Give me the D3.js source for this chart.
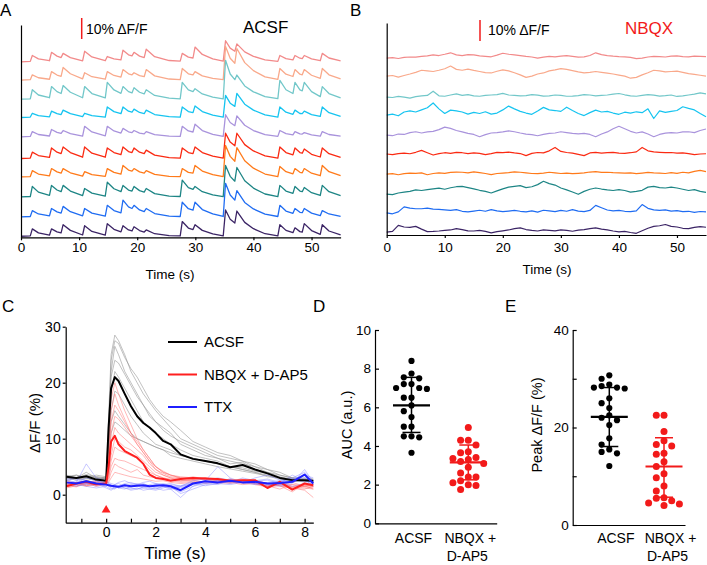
<!DOCTYPE html>
<html><head><meta charset="utf-8">
<script src="https://cdn.jsdelivr.net/npm/d3@7"></script>
<style>body{margin:0;background:#fff}svg{display:block;background:#fff}</style>
</head><body>
<svg id="fig" width="707" height="565"></svg>
<script>
// ---------------- DATA ----------------
// Panel A (ACSF): vertex times (s) shared by all ten traces, values in % dF/F above each trace's own baseline
const timesA = [0,1.6,1.95,3.0,4.9,5.25,6.2,6.9,7.25,8.5,
  10.6,10.95,12.2,14.5,14.85,16.0,17.2,17.55,18.5,19.1,
  19.45,20.4,21.2,21.55,23.0,25.5,27.4,27.75,28.8,29.6,
  29.95,31.2,33.0,34.8,35.2,36.0,36.8,37.15,38.5,40.0,
  42.0,44.2,44.55,45.6,46.8,47.15,48.0,48.4,48.75,50.0,
  51.5,51.85,53.0,55.0];
const acsf1 = [0,0.2,3,1.4,0.5,4.5,2.7,2,4,2, 0.4,5,2.3,0.5,2.5,1.4,0.9,5.5,3.3,2.8, 4.5,2.7,2,6,2.4,0.6,0.3,4,2.2,1.8, 7,3.5,1.4,0.3,10,6.5,5,8.5,4.7,2.6, 0.9,0.2,3,1.5,0.9,3,1.7,1.5,3,1.4, 0.5,4,1.8,0.4];
const acsf2 = [0,0.2,2.5,1.1,0.4,4,2.4,1.8,6,3, 0.6,3.5,1.6,0.4,4,2.2,1.4,5,3,2.5, 3.5,2.1,1.6,5,2,0.5,0.2,5.5,3,2.5, 4,2,0.8,0.2,16,10.4,8,15,8.3,4.5, 1.5,0.3,5.5,2.8,1.7,5,2.8,2.5,5,2.3, 0.8,5.5,2.5,0.6];
const acsf3 = [0,0.2,4.5,2,0.7,6,3.6,2.7,6.5,3.3, 0.7,6,2.7,0.6,8,4.4,2.8,6,3.6,3, 5.5,3.3,2.5,4.5,1.8,0.5,0.2,8,4.4,3.6, 5,2.5,1,0.2,18.5,12,9.3,11.5,6.3,3.5, 1.2,0.3,9,4.5,2.7,8,4.4,4,8,3.6, 1.2,6,2.7,0.6];
const acsf4 = [0,0.2,2,0.9,0.3,3,1.8,1.4,3.5,1.8, 0.4,2,0.9,0.2,5,2.8,1.8,5,3,2.5, 4,2.4,1.8,3.5,1.4,0.4,0.2,5,2.8,2.3, 5.5,2.8,1.1,0.2,10.5,6.8,5.3,11.5,6.3,3.5, 1.2,0.2,5,2.5,1.5,3.5,1.9,1.8,3,1.4, 0.5,5,2.3,0.5];
const acsf5 = [0,0.2,2.5,1.1,0.4,3.5,2.1,1.6,3,1.5, 0.3,5,2.3,0.5,5,2.8,1.8,4,2.4,2, 3,1.8,1.4,2.5,1,0.3,0.2,5,2.8,2.3, 6,3,1.2,0.2,10.5,6.8,5.3,10,5.5,3, 1,0.2,3,1.5,0.9,2.5,1.4,1.3,2,0.9, 0.3,2.5,1.1,0.3];
const acsf6 = [0,0.2,3,1.4,0.5,5,3,2.3,5.5,2.8, 0.6,5.5,2.5,0.6,5,2.8,1.8,5.5,3.3,2.8, 5,3,2.3,4,1.6,0.4,0.2,5,2.8,2.3, 5.5,2.8,1.1,0.2,12,7.8,6,12,6.6,3.6, 1.2,0.2,5.5,2.8,1.7,5,2.8,2.5,4.5,2, 0.7,5,2.3,0.5];
const acsf7 = [0,0.2,3,1.4,0.5,4,2.4,1.8,4,2, 0.4,2.5,1.1,0.3,4,2.2,1.4,5.5,3.3,2.8, 4,2.4,1.8,3,1.2,0.3,0.2,4,2.2,1.8, 5.5,2.8,1.1,0.2,15,9.8,7.5,14,7.7,4.2, 1.4,0.2,5,2.5,1.5,4,2.2,2,4,1.8, 0.6,5.5,2.5,0.6];
const acsf8 = [0,0.2,5,2.3,0.8,5.5,3.3,2.5,5.5,2.8, 0.6,4,1.8,0.4,7,3.9,2.5,5.5,3.3,2.8, 5,3,2.3,4,1.6,0.4,0.2,8,4.4,3.6, 5,2.5,1,0.2,15,9.8,7.5,14,7.7,4.2, 1.4,0.2,5.5,2.8,1.7,5,2.8,2.5,4.5,2, 0.7,5.5,2.5,0.6];
const acsf9 = [0,0.2,3,1.4,0.5,4,2.4,1.8,5,2.5, 0.5,4,1.8,0.4,5.5,3,1.9,8,4.8,4, 5.5,3.3,2.5,4,1.6,0.4,0.2,7,3.9,3.2, 7,3.5,1.4,0.2,16,10.4,8,12.5,6.9,3.8, 1.3,0.2,5.5,2.8,1.7,4,2.2,2,4,1.8, 0.6,3,1.4,0.3];
const acsf10 = [0,0.2,3.5,1.6,0.5,3.5,2.1,1.6,5.5,2.8, 0.6,5,2.3,0.5,6,3.3,2.1,5,3,2.5, 4.5,2.7,2,3,1.2,0.3,0.2,7,3.9,3.2, 5.5,2.8,1.1,0.2,12.5,8.1,6.3,12,6.6,3.6, 1.2,0.2,5.5,2.8,1.7,4,2.2,2,6,2.7, 0.9,5.5,2.5,0.6];

// Panel B (NBQX): one value per second
const timesB = [0,1,2,3,4,5,6,7,8,9,10,11,12,13,14,15,16,17,18,19,20,21,22,23,24,25,26,27,28,29,30,31,32,33,34,35,36,37,38,39,40,41,42,43,44,45,46,47,48,49,50,51,52,53,54,55];
const nbqx1 = [0,0.2,-0.2,0.3,0.5,0.4,0.8,1,1.5,1.2, 1.8,2.5,1.5,1.2,1.6,1.5,1,0.8,0.6,1.4, 2.3,1.8,1.5,1.2,0.8,0.5,0,0.4,0.8,0.6, 0.9,1.2,0.8,0.4,0.6,1.2,2.5,1.6,1.2,0.9, 0.7,0.6,0.3,-0.3,0,0.5,0.8,0.7,0.5,0.9, 1,0.7,0.6,0.9,0.8,0.7];
const nbqx2 = [0,0.3,-0.5,0.3,1,1.8,2.8,2.5,2.2,2.8, 3.5,4.8,3.2,2.8,3.3,2.7,2.2,1.7,1.5,2.3, 3,2.5,1.6,0.6,-0.6,0,1,1.5,2.5,3, 3.6,3.2,2.6,2,1.5,1.8,2.2,1.8,1.4,1, 0.5,0,-1,-0.6,0.6,1.6,2.8,2.5,2,2.2, 2.4,1.8,1.2,0.8,0.4,0];
const nbqx3 = [0,-0.2,0.3,0,-0.5,0.2,0.6,0.8,2.8,0.6, 0.4,1,1.5,0.8,1.2,0.6,0.4,0.8,1,1.2, 1.8,1,0.8,0.6,0.7,1.2,0.9,0.5,0.6,1, 0.8,0.4,0.5,0.7,1.2,1,0.6,0.8,1,1.4, 1.7,1.1,0.6,0.4,0.8,1.2,0.9,0.5,0.7,1, 0.3,0.6,1,1.4,2,1.5];
const nbqx4 = [0,0.5,-0.3,1.5,2,1.5,2.5,3.5,5.8,3, 0.8,2.4,2,1.5,0.5,1.3,0.8,1.6,0.5,1, 2.5,4.3,3,1.8,1,0.4,2,3.7,2.5,2.2, 1.8,3.8,2.2,0.8,-0.2,1.2,2.4,1.5,1.8,1, 0.4,1.4,1,1.6,1.2,3,-1.6,2,1.3,1.8, 2.2,4,3.2,2.5,0.8,-0.8];
const nbqx5 = [0,-0.3,0.5,0.3,1.2,1.6,1,1.5,1.8,2.6, 3.8,3.2,2.2,1.5,0.8,0.3,-0.8,0.2,1,1.2, 1.5,2,1.6,1,0.5,0.2,-0.3,0.3,0.8,1, 1.6,1.2,0.8,0.6,0.8,0.3,-0.8,0.5,1.5,3, 4.2,3,1.8,1,1.5,0.5,-0.8,0.3,0.9,1.2, 1,1.5,1.6,1.2,2.2,2.9];
const nbqx6 = [0,-0.3,0.2,0.4,0.1,0.8,1.7,0.6,-0.5,0.2, 0.6,0.3,0.8,0.6,0.2,0.5,0.3,-0.3,0.2,0.8, 0.6,0.9,0.5,0.2,-0.8,0.3,0.7,0.5,1.5,3.1, 1.2,0.7,0.4,-0.2,-0.8,0.5,0.8,0.4,0.6,0.8, 0.4,0.3,0.6,1,3.1,1.5,1,0.8,0.6,0.7, 0.4,0.5,0.2,-0.3,0,0.1];
const nbqx7 = [0,0.2,-0.3,0.2,0.5,0.4,0.6,-0.3,0.3,0.6, 0.4,0.8,1,0.9,0.6,1.1,0.7,0.3,-0.2,0.3, 0.5,0.7,1.1,0.9,0.6,0.3,0.2,0.5,0.9,0.6, 0.3,0.5,0.2,0.4,0.6,1,1.2,0.8,0.9,0.7, 0.6,0.5,0.6,0.2,0.5,0.8,0.6,0.5,0.3,0.7, 0.4,0.9,0.6,1.3,1.8,1.2];
const nbqx8 = [-0.5,-0.8,0,0.4,0.8,1.5,1.2,1.6,2,2.3, 1.8,2.5,3,3.2,2.6,2,1.3,0.8,0,1, 2,2.8,3.2,3.5,2.6,3,4,5.6,4.5,3.8, 2.4,1.5,0.5,-0.6,0.8,1.8,2.4,1.9,1.5,1.2, 1.6,1.2,0.4,0.8,1.3,2.8,3.2,2.6,2.4,2.8, 2.4,1.8,1.2,1.6,0.8,0.3];
const nbqx9 = [0,-0.4,0.5,2.9,2.3,2,2,2.3,1.8,1.7, 1.5,1.2,1.6,0.8,0.5,0.9,1.3,0.8,1.6,1, 0.6,0.9,1.2,0.8,0.5,1,0.4,1.3,1,0.6, 1.2,0.8,1.6,0.9,0.6,1.2,3.6,2.5,1.4,1, 1.2,0.8,0.6,1,4,2.2,1.5,1.2,1.5,0.9, 1.1,0.6,0.8,0.3,0.7,0.5];
const nbqx10 = [0,0.3,3.2,2.4,2.2,2.7,1.4,0.2,0.3,0.5, 0.8,1,1.6,1.2,0.6,0.5,0.8,0.3,-0.4,0.2, 0.6,1,1.6,2,1.2,0.8,0.5,1,0.8,0.6, 1,0.8,0.4,0.9,1.2,1.6,2,1.4,1,0.5, 0.1,0.3,-0.2,-0.6,0.6,1.8,2.7,3,3.6,2.7, 2.4,1.8,1.6,2.2,2.6,2.3];
const timeTicks = [0,10,20,30,40,50];

// Panel C: evoked responses (% dF/F) at shared times (s)
const timesC = [-1.6,-1.2,-0.8,-0.4,0,0.1,0.2,0.35,0.5,0.75, 1,1.25,1.5,1.75,2,2.3,2.6,3,3.5,4, 4.5,5,5.5,6,6.5,7,7.5,8,8.35];
const meanACSF = [3.2,3,3.3,2.7,2.5,12,19,21,20.3,18, 15.8,14,12.8,12,11,9.6,9,7.2,6.4,6, 5.6,4.9,5.3,4.5,3.8,3,2.6,2.6,2.5];
const meanNBQX = [1.5,2,2.3,1.8,2,5,9.5,10.5,9,7.8, 7.2,6.6,5.5,3.6,3,2.8,2.5,2.8,3,2.9, 2.8,2.5,2.6,2.6,1.2,2.3,0.9,2,1.7];
const meanTTX  = [2.2,2,2.4,2,1.8,1.7,1.6,1.5,1.4,1.7, 1.5,1.6,1.7,1.5,1.6,1.7,1.5,0.8,2,2.4, 2.2,2.5,2.2,2.3,2,2.1,2.3,3.6,2];
const cellsACSF = [
 [3,3.5,3,2.8,3,14,25,28.5,27.5,25, 22,20,18,16.5,15,13.5,12,10,9,8, 7,6.5,6,5,4.5,3.5,3,2.8,2.5],
 [3.5,3,4,3,2.5,12,24,27.5,27,24.5, 22.5,21,19,17,15.5,14,13,11.5,9.5,8.5, 7.5,7,6,5.5,4.5,4,3,2.5,2.5],
 [2.5,3,2.8,3.2,3,10,22,26.5,25,22, 20,18,16,14.5,13,12,11,9,8,7, 6.5,5.5,5.8,4.5,4,3.5,3,3,2.8],
 [3,2.8,3.4,3,2.8,11,21,24,23.5,21.5, 19.5,17.5,16,14,13,11.5,10.5,9.5,8.5,7.5, 6.5,6,5.5,5,4,3.2,2.8,2.5,2.3],
 [3.3,3.5,3,2.5,3,8,18,22,21,19, 17,15,13,12,11,10,9,8,7,6.5, 6,5,4.8,4.2,3.8,3,2.6,2.8,2.5],
 [2.8,3,3.6,3.2,3,7,15,18.5,18,16, 14,12.5,11,10,9,8.5,8,7,6.5,6, 5.5,5,4.5,4,3.5,2.8,2.5,2.5,2.2],
 [3,2.6,3,3.5,3.2,9,13,15,14,12.5, 11,10,9.5,9,8.5,8,7.5,7,6.5,6, 5.5,5,4.5,4,3.2,3,2.8,2.5,2.5],
 [3.2,3,2.5,3,2.8,6,11,13,12.5,11.5, 10.5,10,9.5,9,8.5,8,7,6.5,6,5.5, 5,4.6,4.2,3.8,3.4,3,2.6,2.4,2.3]
];
const cellsNBQX = [
 [1.5,2,2.5,2,2,8,17,20,18,15, 12.5,10,8,6.5,5,4,3.5,3,3,2.8, 2.5,2.5,2.5,2.2,1.8,2,1.5,1.2,1],
 [2,1.5,2.2,2.5,2,7,15,18,16,13.5, 11,9,7.5,6,5,4.2,3.5,3,2.8,3, 2.6,2.4,2.8,2.2,1.5,2.2,1,1.8,1.5],
 [1.8,2.2,2,1.8,2.3,6,13,16,15,13, 11,9.5,8,6.5,5,4,3.5,3.2,3,2.6, 2.8,2.4,2.2,2.5,2,1.6,0.5,2,1.5],
 [2.2,1.8,2.5,2.2,1.8,5,11,14,13.5,12, 10.5,9,7.5,6,4.5,3.8,3.2,3,2.8,3, 2.5,2.6,2.2,2,1.5,2.4,1.2,1.5,2],
 [1.5,2,1.6,2,2.2,4,9,12,11,10, 9,8,7,5.5,4.5,3.5,3,2.8,3.2,2.8, 2.6,2.2,2.6,2.4,1.2,2,1.8,1.6,1.4],
 [2.5,2,1.8,2.4,2,3.5,7,10,9.5,8.5, 8,7,6,5,4,3.5,3,2.5,2.8,3, 2.4,2.8,2.3,2.6,2,1.8,2.2,1.5,1.8],
 [1.2,1.6,2,1.5,1.8,3,6,8.5,8,7.5, 7,6.5,5.5,4.5,3.5,3,2.6,2.4,2.6,2.2, 2.6,2.2,2.4,1.8,1.4,1.6,1.2,0.8,-0.5],
 [2,2.2,1.6,2,2.4,3,5,6.5,6.2,6, 5.5,5,4.5,4,3.5,3,2.8,2.5,2.6,2.8, 2.2,2.4,2,2.2,2,1.6,1.2,1,1.5],
 [1.6,1.4,2,2.2,1.8,2.5,4,5.5,5,4.5, 4,4.5,3.5,3.2,3,2.8,2.5,2.2,2.4,2, 2.3,2,2.5,2,1.6,1,1.8,1.4,1.2],
 [1.8,2,1.5,1.8,2,2.2,3,4,3.8,3.5, 3.2,3,2.8,2.6,2.4,2.5,2.2,2,2.2,2.4, 2,2.2,1.8,2,1.5,1.8,1.4,1.6,1]
];
const cellsTTX = [
 [2.5,3,2.5,2,1.5,1.8,1.5,1.2,1.5,1.8, 1.4,1.6,1.2,1.5,1.8,1.5,1.2,0.5,1.5,2, 2.5,2.2,3,2.5,2.8,2.2,3,4,2.5],
 [1.8,2.2,5.5,3,2.5,2,1.8,1.5,1.2,1, 1.5,1.8,2,1.5,1.2,1.4,1,-0.5,1.5,2.5, 3,2.6,2.4,2,2.2,2.5,2.2,3,2],
 [2.2,1.5,2,2.5,2,1.5,1.2,1,1.5,2, 2.2,1.8,1.5,1.2,1,1.5,1.8,1.5,2,2.5, 5,3,2.2,2.5,2,1.8,1.5,2,1.8],
 [3,2.8,2,1.5,1.8,2,1.5,1.8,2,1.5, 1.2,1,1.4,1.8,2,1.6,1.2,1.6,2.2,2, 2.4,2.8,2.2,3,3.5,2.6,2.8,3.5,3],
 [1.5,2,2.4,2,1.2,1,0.8,1.2,1.5,1.2, 0.8,1,1.2,1,0.8,1.2,1.5,0.2,1,1.8, 2,2.5,2.2,1.8,2,1.5,2,4.5,2.2],
 [2,2.5,1.8,2.2,2.5,2.2,2,1.8,2.2,2.5, 2,1.8,2.2,2.4,2,1.8,2,1.5,2.5,2.8, 2.5,2,2.6,2.2,1.8,2.4,2.8,2.2,2.6],
 [2.8,2,3,2.5,2,1.6,1.4,1.8,1.2,1.6, 1.8,2,1.6,1.4,1.8,2,1.6,1.2,1.8,2.2, 1.8,2.6,2,2.4,2.6,2,3.5,2.5,1.8],
 [1.6,1.8,1.5,1.2,1.5,1.2,1,1.4,1.6,1.2, 1,1.2,0.8,1,1.2,0.8,1,1.4,2,1.6, 2,1.8,2.2,2,1.6,1.8,2.2,2.8,1.5]
];
const legendC = ['ACSF','NBQX + D-AP5','TTX'];

// Panels D and E
const groups = ['ACSF','NBQX + D-AP5'];
const aucACSF = [8.4,7.75,7.55,7.5,7.2,7.2,7.0,7.0,6.95,6.5,6.5,6.1,5.8,5.5,5.0,5.0,4.5,4.45,4.5,3.65];
const aucNBQX = [4.95,4.3,4.3,4.05,3.7,3.65,3.4,3.35,3.3,3.2,3.1,2.9,2.6,2.4,2.4,2.2,2.1,2.0,1.95,1.75];
const aucMean = [6.1,3.15], aucSDlow = [4.7,2.25], aucSDhigh = [7.55,4.05];
const peakACSF = [30.7,30.0,28.8,28.5,28.2,28.2,28.0,26.0,25.0,24.0,22.5,22.0,21.5,20.5,17.8,16.5,15.5,15.0,14.7,12.1];
const peakNBQX = [22.5,22.5,19.2,17.3,16.5,16.2,14.7,14.5,13.0,12.0,10.5,9.7,8.0,7.0,5.6,5.5,5.0,4.5,4.3,4.0];
const peakMean = [22.2,12.0], peakSDlow = [16.1,5.7], peakSDhigh = [28.2,17.9];

// ---------------- DRAWING ----------------
const FONT = '"Liberation Sans", Arial, Helvetica, sans-serif';
const svg = d3.select('#fig');
svg.append('rect').attr('width',707).attr('height',565).attr('fill','#fff');
const traceColors = ['#f28a8a','#f9a98b','#72c7c9','#16c4f0','#a993dc','#fa2a12','#ff7a1a','#1d8585','#1f6cf2','#3b2465'];

function styleAxis(g, fs) {
  g.attr('font-family', FONT).attr('font-size', fs);
  g.selectAll('path.domain').attr('stroke','#000').attr('stroke-width',1.2);
  g.selectAll('.tick line').attr('stroke','#000').attr('stroke-width',1.2);
  g.selectAll('.tick text').attr('fill','#000');
}
function txt(x, y, s, fs, opts={}) {
  return svg.append('text').attr('x',x).attr('y',y).text(s)
    .attr('font-family',FONT).attr('font-size',fs)
    .attr('fill',opts.fill||'#000').attr('text-anchor',opts.anchor||'start');
}

// ---- Panel A ----
const xA = d3.scaleLinear().domain([0,55]).range([21,340.6]);
const yA = d3.scaleLinear().domain([0,101]).range([237.3,25]);
const offA = [83.5,74.8,65.7,57,47.8,37.5,28.7,19.2,9.7,0.5];
const seriesA = [acsf1,acsf2,acsf3,acsf4,acsf5,acsf6,acsf7,acsf8,acsf9,acsf10];
seriesA.forEach((s,i) => {
  const line = d3.line().x(d=>xA(d[0])).y(d=>yA(d[1]+offA[i]));
  svg.append('path').attr('d', line(timesA.map((t,j)=>[t,s[j]])))
    .attr('fill','none').attr('stroke',traceColors[i]).attr('stroke-width',1.3).attr('stroke-linejoin','round');
});
svg.append('g').attr('transform',`translate(0,${yA(0)})`)
  .call(d3.axisBottom(xA).tickValues(timeTicks).tickSize(3).tickSizeOuter(0).tickPadding(2)).call(styleAxis,13.5);
svg.append('g').attr('transform',`translate(${xA(0)},0)`)
  .call(d3.axisLeft(yA).tickValues([]).tickSizeOuter(0)).call(styleAxis,13.5);
svg.append('line').attr('x1',81.7).attr('x2',81.7).attr('y1',18).attr('y2',18+yA(0)-yA(10))
  .attr('stroke','#f21a1a').attr('stroke-width',1.5);
txt(86,34,'10% ΔF/F',14);
txt(243,33,'ACSF',17);
txt(170,279,'Time (s)',13.5,{anchor:'middle'});
txt(0,16,'A',17);

// ---- Panel B ----
const xB = d3.scaleLinear().domain([0,55]).range([386.7,706]);
const yB = d3.scaleLinear().domain([0,101]).range([235,23]);
const offB = [84.3,75.7,65.7,57.1,47.6,38.6,29,20,10.5,1.4];
const seriesB = [nbqx1,nbqx2,nbqx3,nbqx4,nbqx5,nbqx6,nbqx7,nbqx8,nbqx9,nbqx10];
seriesB.forEach((s,i) => {
  const line = d3.line().x(d=>xB(d[0])).y(d=>yB(d[1]+offB[i]));
  svg.append('path').attr('d', line(timesB.map((t,j)=>[t,s[j]])))
    .attr('fill','none').attr('stroke',traceColors[i]).attr('stroke-width',1.2).attr('stroke-linejoin','round');
});
svg.append('g').attr('transform',`translate(0,${yB(0)})`)
  .call(d3.axisBottom(xB).tickValues(timeTicks).tickSize(3).tickSizeOuter(0).tickPadding(4)).call(styleAxis,13.5);
svg.append('g').attr('transform',`translate(${xB(0)},0)`)
  .call(d3.axisLeft(yB).tickValues([]).tickSizeOuter(0)).call(styleAxis,13.5);
svg.append('line').attr('x1',480).attr('x2',480).attr('y1',20).attr('y2',20+yB(0)-yB(10))
  .attr('stroke','#f21a1a').attr('stroke-width',1.5);
txt(488,35,'10% ΔF/F',14);
txt(625,34,'NBQX',17,{fill:'#f21a1a'});
txt(547,274,'Time (s)',13.5,{anchor:'middle'});
txt(350,16,'B',17);

// ---- Panel C ----
const xC = d3.scaleLinear().domain([-1.63,8.35]).range([65.7,313.3]);
const yC = d3.scaleLinear().domain([-5,30]).range([522.7,326.7]);
const lineC = d3.line().x(d=>xC(d[0])).y(d=>yC(d[1]));
const ptsC = s => timesC.map((t,j)=>[t,s[j]]);
cellsACSF.forEach(s => svg.append('path').attr('d',lineC(ptsC(s))).attr('fill','none')
  .attr('stroke','#8f8f8f').attr('stroke-opacity',0.8).attr('stroke-width',0.7));
cellsNBQX.forEach(s => svg.append('path').attr('d',lineC(ptsC(s))).attr('fill','none')
  .attr('stroke','#ff7070').attr('stroke-opacity',0.7).attr('stroke-width',0.7));
cellsTTX.forEach(s => svg.append('path').attr('d',lineC(ptsC(s))).attr('fill','none')
  .attr('stroke','#7a7aff').attr('stroke-opacity',0.6).attr('stroke-width',0.7));
const colC = ['#000000','#ff1f1f','#1f1fff'];
[meanACSF,meanNBQX,meanTTX].forEach((s,i) => svg.append('path').attr('d',lineC(ptsC(s)))
  .attr('fill','none').attr('stroke',colC[i]).attr('stroke-width',2).attr('stroke-linejoin','round'));
svg.append('g').attr('transform',`translate(0,${yC(-5)})`)
  .call(d3.axisBottom(xC).tickValues([-1,0,1,2,3,4,5,6,7,8]).tickFormat(d => d%2===0 ? d : '')
    .tickSize(-4).tickSizeOuter(0).tickPadding(4)).call(styleAxis,14);
svg.append('g').attr('transform',`translate(${xC(-1.63)},0)`)
  .call(d3.axisLeft(yC).tickValues([0,10,20,30]).tickSize(3).tickSizeOuter(0).tickPadding(2)).call(styleAxis,14);
svg.append('path').attr('d',d3.symbol(d3.symbolTriangle,34)())
  .attr('transform',`translate(${xC(0)},510)`).attr('fill','#ff1f1f');
legendC.forEach((name,i) => {
  const y = 342 + i*32.5;
  svg.append('line').attr('x1',168).attr('x2',197).attr('y1',y).attr('y2',y)
    .attr('stroke',colC[i]).attr('stroke-width',2);
  txt(204,y+5.3,name,15);
});
txt(175,559,'Time (s)',17,{anchor:'middle'});
txt(0,0,'ΔF/F (%)',15,{anchor:'middle'}).attr('transform','translate(40,423) rotate(-90)');
txt(2,312,'C',17);

// ---- Panels D & E ----
function swarm(values, cx, y, r, step) {
  const placed = [];
  values.slice().sort((a,b)=>b-a).forEach(v => {
    const py = y(v);
    for (const k of [0,-1,1,-2,2,-3,3,-4,4]) {
      const px = cx + k*step;
      if (placed.every(p => (p.x-px)**2 + (p.y-py)**2 >= (2*r+0.3)**2)) { placed.push({x:px,y:py}); break; }
    }
  });
  return placed;
}
function dotPanel(cfg) {
  const {x0, x1, y, cat, vals, means, lows, highs, ticks, labelTicks, label, labelX, labDx} = cfg;
  const cols = ['#000000','#f21a1a'];
  const radii = [3.1,3.5];
  groups.forEach((g,i) => {
    const cx = cat(g);
    swarm(vals[i], cx, y, radii[i], 7.7).forEach(p =>
      svg.append('circle').attr('cx',p.x).attr('cy',p.y).attr('r',radii[i]).attr('fill',cols[i]));
    svg.append('line').attr('x1',cx).attr('x2',cx).attr('y1',y(lows[i])).attr('y2',y(highs[i]))
      .attr('stroke',cols[i]).attr('stroke-width',1.5);
    [lows[i],highs[i]].forEach(v => svg.append('line').attr('x1',cx-9).attr('x2',cx+9)
      .attr('y1',y(v)).attr('y2',y(v)).attr('stroke',cols[i]).attr('stroke-width',1.5));
    svg.append('line').attr('x1',cx-18.5).attr('x2',cx+18.5).attr('y1',y(means[i])).attr('y2',y(means[i]))
      .attr('stroke',cols[i]).attr('stroke-width',2.2);
  });
  svg.append('g').attr('transform',`translate(${x0},0)`)
    .call(d3.axisLeft(y).tickValues(ticks).tickFormat(d => labelTicks.includes(d) ? d : '')
      .tickSize(-4).tickSizeOuter(0).tickPadding(4)).call(styleAxis,13.5);
  svg.append('g').attr('transform',`translate(0,${y.range()[0]})`)
    .call(d3.axisBottom(d3.scaleLinear().range([x0,x1])).tickValues([]).tickSizeOuter(0)).call(styleAxis,13.5);
  txt(cat(groups[0])+labDx,542.5,'ACSF',14,{anchor:'middle'});
  txt(cat(groups[1])+labDx,542.5,'NBQX +',14,{anchor:'middle'});
  txt(cat(groups[1])+labDx-3,561,'D-AP5',14,{anchor:'middle'});
  txt(0,0,label,14.5,{anchor:'middle'}).attr('transform',`translate(${labelX},425) rotate(-90)`);
}
const yD = d3.scaleLinear().domain([0,10]).range([523.3,330]);
dotPanel({x0:375, x1:496.7, y:yD, cat:d3.scalePoint().domain(groups).range([411.5,468.3]),
  vals:[aucACSF,aucNBQX], means:aucMean, lows:aucSDlow, highs:aucSDhigh,
  ticks:[0,2,4,6,8,10], labelTicks:[0,2,4,6,8,10], label:'AUC (a.u.)', labelX:352, labDx:2});
txt(313,312,'D',17);

const yE = d3.scaleLinear().domain([0,40]).range([525,330]);
dotPanel({x0:572.7, x1:685, y:yE, cat:d3.scalePoint().domain(groups).range([609.3,664]),
  vals:[peakACSF,peakNBQX], means:peakMean, lows:peakSDlow, highs:peakSDhigh,
  ticks:[0,10,20,30,40], labelTicks:[0,20,40], label:'Peak ΔF/F (%)', labelX:542, labDx:6.5});
txt(505,312,'E',17);
</script>
</body></html>
